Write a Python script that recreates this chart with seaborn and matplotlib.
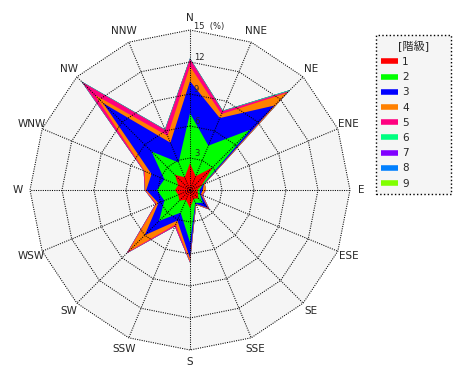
import matplotlib
matplotlib.use("Agg")
import matplotlib.pyplot as plt
from matplotlib.lines import Line2D
from matplotlib.transforms import offset_copy
import numpy as np
import seaborn as sns

# wind directions, clockwise from north
directions = ["N", "NNE", "NE", "ENE", "E", "ESE", "SE", "SSE",
              "S", "SSW", "SW", "WSW", "W", "WNW", "NW", "NNW"]
classes = ["1", "2", "3", "4", "5", "6", "7", "8", "9"]

# frequency (%) of each class per direction
class1 = [2.5, 1.4, 3.0, 1.2, 0.7, 0.8, 1.1, 0.9, 1.7, 1.0, 1.4, 1.2, 1.4, 1.2, 2.0, 1.3]
class2 = [4.7, 3.1, 5.0, 0.1, 0.2, 0.2, 0.6, 0.4, 3.2, 1.3, 2.7, 1.4, 1.7, 1.4, 3.1, 1.5]
class3 = [3.0, 2.8, 3.2, 0.1, 0.3, 0.1, 0.7, 0.1, 1.5, 0.8, 1.9, 0.6, 1.0, 1.3, 6.4, 2.0]
class4 = [1.4, 0.4, 1.7, 0.1, 0.3, 0.1, 0.1, 0.1, 0.3, 0.4, 2.2, 0.2, 0.1, 0.7, 1.1, 0.7]
class5 = [0.7, 0.3, 0.2, 0.0, 0.0, 0.1, 0.1, 0.0, 0.1, 0.2, 0.2, 0.1, 0.05, 0.1, 1.7, 0.6]
class6 = [0.05, 0.05, 0.15, 0.0, 0.0, 0.0, 0.0, 0.0, 0.0, 0.0, 0.0, 0.0, 0.0, 0.0, 0.1, 0.05]
class7 = [0.0] * 16
class8 = [0.0] * 16
class9 = [0.0] * 16

rings = [3, 6, 9, 12, 15]
ring_labels = ["3", "6", "9", "12", "15  (%)"]

colors = ["#ff0000", "#00ff00", "#0000ff", "#ff8000", "#ff0080",
          "#00ff80", "#8000ff", "#0080ff", "#80ff00"]

sns.set_style("white")
plt.rcParams['font.family'] = ['DejaVu Sans', 'Noto Sans CJK JP']
palette = sns.color_palette(colors)

fig = plt.figure(figsize=(4.7, 3.8), dpi=100)
ax = fig.add_axes([30 / 470, 30 / 380, 320 / 470, 320 / 380], projection="polar")
ax.set_theta_zero_location("N")
ax.set_theta_direction(-1)
ax.set_facecolor("none")

theta = np.deg2rad(np.arange(len(directions)) * 22.5)
loop = np.append(theta, theta[0])

# light grey 16-gon background
ax.fill(loop, np.full(len(loop), rings[-1]), color="#f5f5f5", lw=0, zorder=0)

values = np.array([class1, class2, class3, class4, class5,
                   class6, class7, class8, class9])
cum = values.cumsum(axis=0)
for i in range(len(classes) - 1, -1, -1):
    r = np.append(cum[i], cum[i][0])
    ax.fill(loop, r, color=palette[i], lw=0, zorder=1)

# dotted polygon grid and spokes
dots = (0, (1, 1.2))
for level in rings:
    ax.plot(loop, [level] * len(loop), color="black", lw=0.75, ls=dots,
            zorder=3, clip_on=False)
for t in theta:
    ax.plot([t, t], [0, rings[-1]], color="black", lw=0.75, ls=dots,
            zorder=3, clip_on=False)

lab_tf = offset_copy(ax.transData, fig=fig, x=4, y=4, units="dots")
for level, lab in zip(rings, ring_labels):
    ax.text(0, level, lab, transform=lab_tf, ha="left", va="center",
            fontsize=6, zorder=4)

for t, name in zip(theta, directions):
    ax.text(t, 16.1, name, ha="center", va="center", fontsize=7.5)

ax.grid(False)
ax.set_xticks([])
ax.set_yticks([])
ax.spines["polar"].set_visible(False)
ax.set_ylim(0, 15)

handles = [Line2D([0], [0], color=palette[i], lw=4, solid_capstyle="butt")
           for i in range(len(classes))]
leg = fig.legend(handles, classes, loc="upper left",
                 bbox_to_anchor=(376 / 470, 0, 75 / 470, 1 - 35 / 380),
                 bbox_transform=fig.transFigure, mode="expand",
                 title="[階級]", fontsize=7.5, title_fontsize=8,
                 handlelength=1.6, handletextpad=0.4, labelspacing=0.5,
                 borderaxespad=0, borderpad=0.5, fancybox=False, framealpha=1)
frame = leg.get_frame()
frame.set_facecolor("#f5f5f5")
frame.set_edgecolor("black")
frame.set_linestyle(":")
frame.set_linewidth(1)

fig.savefig("out.png", dpi=100)
